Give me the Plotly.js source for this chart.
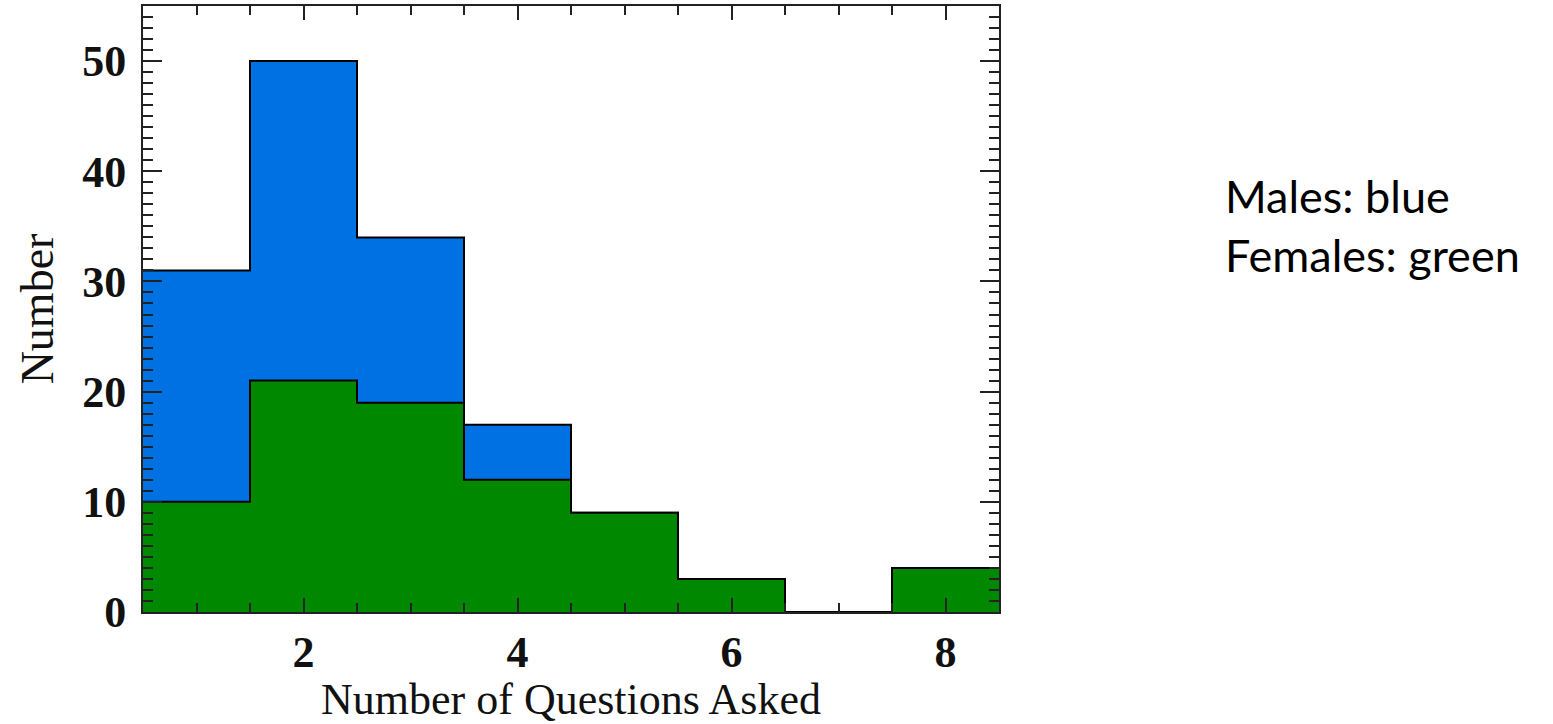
<!DOCTYPE html>
<html>
<head>
<meta charset="utf-8">
<script src="https://cdn.plot.ly/plotly-3.0.1.min.js"></script>
<style>html,body{margin:0;padding:0;background:#fff;}#chart{width:1553px;height:724px;}</style>
</head>
<body>
<div id="chart"></div>
<script>
// Bin centres (number of questions asked)
const binCenters = [1, 2, 3, 4, 5, 6, 7, 8];
// Total counts (blue, everyone) and female counts (green)
const totalCounts = [31, 50, 34, 17, 9, 3, 0, 4];
const femaleCounts = [10, 21, 19, 12, 9, 3, 0, 4];
const xTickVals = [2, 4, 6, 8];
const yTickVals = [0, 10, 20, 30, 40, 50];
const noteLines = ["Males: blue", "Females: green"];

const binWidth = 1;
function stepX(centers) {
  const xs = centers.map(c => c - binWidth / 2);
  xs.push(centers[centers.length - 1] + binWidth / 2);
  return xs;
}
function stepY(vals) {
  const ys = vals.slice();
  ys.push(vals[vals.length - 1]);
  return ys;
}

const traces = [
  {
    type: 'scatter', mode: 'lines',
    x: stepX(binCenters), y: stepY(totalCounts),
    line: {shape: 'hv', color: '#000', width: 2},
    fill: 'tozeroy', fillcolor: 'rgb(0,113,227)',
    hoverinfo: 'skip', showlegend: false
  },
  {
    type: 'scatter', mode: 'lines',
    x: stepX(binCenters), y: stepY(femaleCounts),
    line: {shape: 'hv', color: '#000', width: 2},
    fill: 'tozeroy', fillcolor: 'rgb(0,136,0)',
    hoverinfo: 'skip', showlegend: false
  }
];

const serif = '"Liberation Serif", "Times New Roman", serif';
const layout = {
  width: 1553, height: 724,
  margin: {l: 143, r: 554, t: 6, b: 112},
  paper_bgcolor: '#fff', plot_bgcolor: '#fff',
  showlegend: false,
  xaxis: {
    range: [0.5, 8.5], tickvals: xTickVals, ticktext: xTickVals.map(String),
    ticks: 'inside', ticklen: 14, tickwidth: 2, tickcolor: '#222',
    showline: true, linecolor: '#222', linewidth: 2, mirror: 'allticks',
    showgrid: false, zeroline: false,
    minor: {dtick: 0.5, ticks: 'inside', ticklen: 9, tickwidth: 2, tickcolor: '#222', showgrid: false},
    tickfont: {family: serif, size: 44, color: '#111', weight: 'bold'},
    title: {text: 'Number of Questions Asked', font: {family: serif, size: 44, color: '#111'}, standoff: 2},
    layer: 'above traces'
  },
  yaxis: {
    range: [0, 55], tickvals: yTickVals, ticktext: yTickVals.map(String),
    ticks: 'inside', ticklen: 19, tickwidth: 2, tickcolor: '#222',
    showline: true, linecolor: '#222', linewidth: 2, mirror: 'allticks',
    showgrid: false, zeroline: false,
    minor: {dtick: 1, ticks: 'inside', ticklen: 10, tickwidth: 2, tickcolor: '#222', showgrid: false},
    tickfont: {family: serif, size: 44, color: '#111', weight: 'bold'},
    ticklabelstandoff: 6,
    title: {text: 'Number', font: {family: serif, size: 46, color: '#111'}, standoff: 14},
    layer: 'above traces'
  },
  annotations: [{
    xref: 'paper', yref: 'paper',
    x: (1223 - 143) / 856, y: (612 - 226) / 606,
    xanchor: 'left', yanchor: 'middle', align: 'left',
    showarrow: false,
    text: noteLines.join('<br>'),
    font: {family: 'Lato, "Open Sans", sans-serif', size: 45, color: '#000'}
  }]
};

Plotly.newPlot('chart', traces, layout, {displayModeBar: false, staticPlot: true});
</script>
</body>
</html>
